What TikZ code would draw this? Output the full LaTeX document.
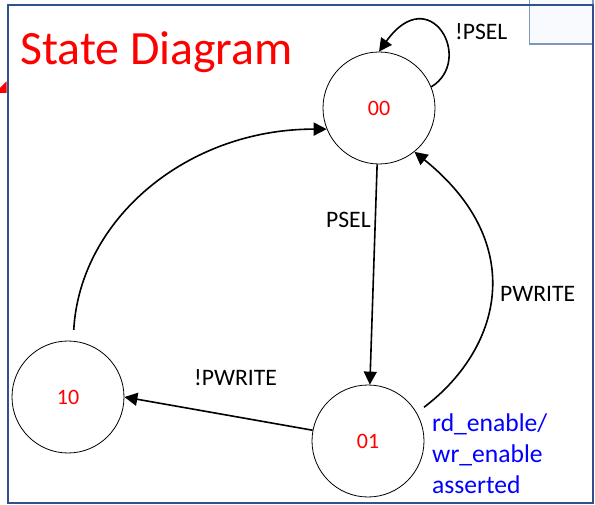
\documentclass[tikz,border=0pt]{standalone}
\usepackage{fontspec}
\setmainfont{Carlito}
\usetikzlibrary{arrows.meta}

\definecolor{framecol}{RGB}{47,82,143}
\definecolor{tabcol}{RGB}{125,152,185}
\definecolor{tabfill}{RGB}{248,250,253}

\tikzset{
  state/.style={circle, draw=black, line width=0.8pt, minimum size=112pt,
    inner sep=0pt, text=red, font=\fontsize{22}{26}\selectfont},
  trans/.style={line width=1.6pt, -{Triangle[length=13pt,width=13pt]}},
  lbl/.style={anchor=base west, inner sep=0pt, font=\fontsize{23.6}{27}\selectfont},
}

\begin{document}
\begin{tikzpicture}[x=1pt, y=-1pt]
  \useasboundingbox (0,0) rectangle (595,505);

  % small pointer tip entering from the left
  \fill[red] (0,88) -- (6.5,81.5) -- (6.5,93) -- (0,93) -- cycle;

  % tab at the top right corner
  \draw[tabcol, fill=tabfill, line width=1.2pt] (529.5,-3) rectangle (593,44);

  % outer frame
  \draw[framecol, line width=2pt] (7.5,5.5) rectangle (592.5,502.5);

  % title
  \node[anchor=base west, inner sep=0pt, text=red,
        font=\fontsize{47.8}{52}\selectfont] (title) at (20,65) {State Diagram};

  % states
  \node[state] (s00) at (379,108) {00};
  \node[state] (s10) at (68,397) {10};
  \node[state] (s01) at (368,441) {01};

  % transitions
  \draw[trans] (s00.22) .. controls (475,60) and (430,-20) .. (s00.north);
  \draw[trans] (s00) -- (s01);
  \draw[trans] ([shift={(31.7:9pt)}]s01.31.7) .. controls (500,350) and (530,245) .. (s00.-51);
  \draw[trans] (s01.169) -- (s10.0);
  \draw[trans] ([shift={(85.7:11pt)}]s10.85.7) .. controls (80,219) and (187,129) .. (s00.202);

  % transition labels
  \node[lbl] (lpsel0) at (455,40) {!PSEL};
  \node[lbl] (lpsel) at (326,228) {PSEL};
  \node[lbl] (lpw) at (500,302) {PWRITE};
  \node[lbl] (lnpw) at (194,385) {!PWRITE};

  % output note
  \node[anchor=north west, inner sep=0pt, align=left, text=blue,
        font=\fontsize{25.6}{31}\selectfont] (note) at (432,414)
        {rd\_enable/\\wr\_enable\\asserted};
\end{tikzpicture}
\end{document}
